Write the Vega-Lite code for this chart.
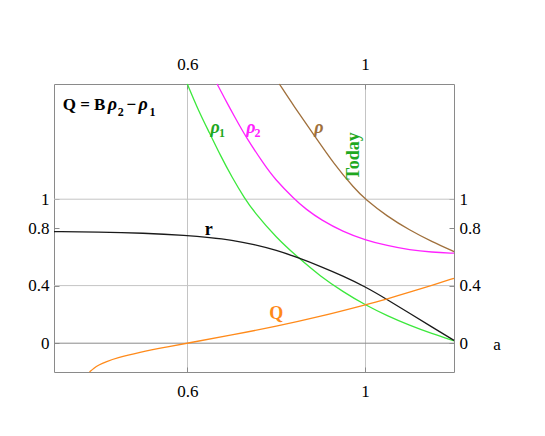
{
  "$schema": "https://vega.github.io/schema/vega-lite/v6.json",
  "width": 400,
  "height": 288,
  "autosize": {"type": "none"},
  "padding": {"left": 54, "top": 84, "right": 91, "bottom": 64},
  "background": "white",
  "config": {
    "view": {"stroke": null},
    "font": "Liberation Serif",
    "axis": {
      "labelFont": "Liberation Serif",
      "labelFontSize": 17,
      "labelColor": "#000000",
      "domainColor": "#8a8a8a",
      "tickColor": "#8a8a8a",
      "tickSize": -5,
      "title": null,
      "labelFlush": false,
      "labelOverlap": false,
      "format": "~g"
    }
  },
  "datasets": {
    "curves": [
      {"s": "rho1", "a": 0.6, "v": 1.8},
      {"s": "rho1", "a": 0.625, "v": 1.615},
      {"s": "rho1", "a": 0.65, "v": 1.46},
      {"s": "rho1", "a": 0.675, "v": 1.3},
      {"s": "rho1", "a": 0.7, "v": 1.155},
      {"s": "rho1", "a": 0.729, "v": 1.005},
      {"s": "rho1", "a": 0.75, "v": 0.913},
      {"s": "rho1", "a": 0.8, "v": 0.733},
      {"s": "rho1", "a": 0.85, "v": 0.593},
      {"s": "rho1", "a": 0.9, "v": 0.463},
      {"s": "rho1", "a": 0.95, "v": 0.358},
      {"s": "rho1", "a": 1.0, "v": 0.266},
      {"s": "rho1", "a": 1.05, "v": 0.19},
      {"s": "rho1", "a": 1.1, "v": 0.124},
      {"s": "rho1", "a": 1.15, "v": 0.067},
      {"s": "rho1", "a": 1.2, "v": 0.016},
      {"s": "rho2", "a": 0.667, "v": 1.8},
      {"s": "rho2", "a": 0.69, "v": 1.665},
      {"s": "rho2", "a": 0.706, "v": 1.575},
      {"s": "rho2", "a": 0.732, "v": 1.43},
      {"s": "rho2", "a": 0.773, "v": 1.24},
      {"s": "rho2", "a": 0.796, "v": 1.143},
      {"s": "rho2", "a": 0.841, "v": 1.0},
      {"s": "rho2", "a": 0.867, "v": 0.93},
      {"s": "rho2", "a": 0.901, "v": 0.856},
      {"s": "rho2", "a": 0.95, "v": 0.775},
      {"s": "rho2", "a": 1.0, "v": 0.717},
      {"s": "rho2", "a": 1.05, "v": 0.677},
      {"s": "rho2", "a": 1.1, "v": 0.647},
      {"s": "rho2", "a": 1.15, "v": 0.632},
      {"s": "rho2", "a": 1.2, "v": 0.625},
      {"s": "rho", "a": 0.807, "v": 1.8},
      {"s": "rho", "a": 0.84, "v": 1.645},
      {"s": "rho", "a": 0.882, "v": 1.46},
      {"s": "rho", "a": 0.931, "v": 1.24},
      {"s": "rho", "a": 0.976, "v": 1.075},
      {"s": "rho", "a": 1.0, "v": 1.0},
      {"s": "rho", "a": 1.05, "v": 0.88},
      {"s": "rho", "a": 1.1, "v": 0.785},
      {"s": "rho", "a": 1.15, "v": 0.705},
      {"s": "rho", "a": 1.2, "v": 0.636},
      {"s": "r", "a": 0.3, "v": 0.775},
      {"s": "r", "a": 0.4, "v": 0.773},
      {"s": "r", "a": 0.5, "v": 0.765},
      {"s": "r", "a": 0.6, "v": 0.748},
      {"s": "r", "a": 0.65, "v": 0.734},
      {"s": "r", "a": 0.7, "v": 0.716},
      {"s": "r", "a": 0.75, "v": 0.686},
      {"s": "r", "a": 0.8, "v": 0.646},
      {"s": "r", "a": 0.85, "v": 0.593},
      {"s": "r", "a": 0.9, "v": 0.533},
      {"s": "r", "a": 0.95, "v": 0.467},
      {"s": "r", "a": 1.0, "v": 0.393},
      {"s": "r", "a": 1.05, "v": 0.303},
      {"s": "r", "a": 1.1, "v": 0.208},
      {"s": "r", "a": 1.15, "v": 0.113},
      {"s": "r", "a": 1.2, "v": 0.02},
      {"s": "Q", "a": 0.38, "v": -0.2},
      {"s": "Q", "a": 0.39, "v": -0.172},
      {"s": "Q", "a": 0.4, "v": -0.152},
      {"s": "Q", "a": 0.418, "v": -0.128},
      {"s": "Q", "a": 0.44, "v": -0.103},
      {"s": "Q", "a": 0.493, "v": -0.063},
      {"s": "Q", "a": 0.55, "v": -0.028},
      {"s": "Q", "a": 0.6, "v": 0.0},
      {"s": "Q", "a": 0.7, "v": 0.057},
      {"s": "Q", "a": 0.8, "v": 0.117},
      {"s": "Q", "a": 0.9, "v": 0.186},
      {"s": "Q", "a": 1.0, "v": 0.266},
      {"s": "Q", "a": 1.05, "v": 0.308},
      {"s": "Q", "a": 1.1, "v": 0.354},
      {"s": "Q", "a": 1.15, "v": 0.402},
      {"s": "Q", "a": 1.2, "v": 0.451}
    ],
    "grid": [{"g": 0.4}, {"g": 1}],
    "centerLabels": [
      {"s": "rlab", "t": "r", "a": 0.648, "v": 0.752},
      {"s": "Qlab", "t": "Q", "a": 0.8, "v": 0.171}
    ],
    "formulaUpright": [
      {"s": "formula", "t": "Q = B", "a": 0.3196, "v": 1.62},
      {"s": "formula", "t": "−", "a": 0.4634, "v": 1.62}
    ],
    "italicLabels": [
      {"s": "rho1lab", "t": "ρ", "a": 0.6521, "v": 1.457},
      {"s": "rho2lab", "t": "ρ", "a": 0.7324, "v": 1.457},
      {"s": "rholab", "t": "ρ", "a": 0.8858, "v": 1.457},
      {"s": "formula", "t": "ρ", "a": 0.4209, "v": 1.62},
      {"s": "formula", "t": "ρ", "a": 0.4904, "v": 1.62}
    ],
    "subscripts": [
      {"s": "rho1lab", "t": "1", "a": 0.6712, "v": 1.429},
      {"s": "rho2lab", "t": "2", "a": 0.751, "v": 1.429},
      {"s": "formula", "t": "2", "a": 0.4432, "v": 1.578},
      {"s": "formula", "t": "1", "a": 0.5151, "v": 1.578}
    ],
    "today": [{"s": "todaylab", "t": "Today", "a": 0.976, "v": 1.3}],
    "axisName": [{"s": "alab", "t": "a", "a": 1.297, "v": -0.01}]
  },
  "resolve": {"axis": {"x": "independent", "y": "independent"}},
  "layer": [
    {
      "data": {"name": "grid"},
      "mark": {"type": "rule", "color": "#c4c4c4", "strokeWidth": 1},
      "encoding": {
        "y": {"field": "g", "type": "quantitative", "scale": {"domain": [-0.2, 1.8], "nice": false, "zero": false},
          "axis": {"orient": "right", "values": [0, 0.4, 0.8, 1], "grid": false, "labelPadding": 10}},
        "x": {"datum": 0.3, "type": "quantitative", "scale": {"domain": [0.3, 1.2], "nice": false, "zero": false},
          "axis": {"orient": "top", "values": [0.6, 1], "grid": false, "labelPadding": 16}},
        "x2": {"datum": 1.2}
      }
    },
    {
      "data": {"values": [{"z": 0}]},
      "mark": {"type": "rule", "color": "#8a8a8a", "strokeWidth": 1},
      "encoding": {
        "y": {"field": "z", "type": "quantitative", "axis": null},
        "x": {"datum": 0.3, "type": "quantitative", "axis": null},
        "x2": {"datum": 1.2}
      }
    },
    {
      "data": {"name": "curves"},
      "mark": {"type": "line", "strokeWidth": 1.3, "interpolate": "basis"},
      "encoding": {
        "x": {"field": "a", "type": "quantitative",
          "axis": {"orient": "bottom", "values": [0.6, 1], "grid": true, "gridColor": "#c4c4c4", "gridWidth": 1, "labelPadding": 16}},
        "y": {"field": "v", "type": "quantitative",
          "axis": {"orient": "left", "values": [0, 0.4, 0.8, 1], "grid": false, "labelPadding": 10}},
        "color": {"field": "s", "type": "nominal", "legend": null,
          "scale": {
            "domain": ["rho1", "rho2", "rho", "r", "Q", "rho1lab", "rho2lab", "rholab", "rlab", "Qlab", "todaylab", "formula", "alab"],
            "range": ["#3ce83c", "#ff22ff", "#a0703c", "#1a1a1a", "#ff8a1a", "#1fa81f", "#ff22ff", "#a0703c", "#000000", "#ff8a1a", "#1fa81f", "#000000", "#000000"]
          }},
        "detail": {"field": "s"}
      }
    },
    {
      "data": {"name": "centerLabels"},
      "mark": {"type": "text", "font": "Liberation Serif", "fontWeight": "bold", "fontSize": 18, "align": "center", "baseline": "alphabetic"},
      "encoding": {
        "x": {"field": "a", "type": "quantitative", "axis": null},
        "y": {"field": "v", "type": "quantitative", "axis": null},
        "text": {"field": "t"},
        "color": {"field": "s", "type": "nominal", "legend": null}
      }
    },
    {
      "data": {"name": "formulaUpright"},
      "mark": {"type": "text", "font": "Liberation Serif", "fontWeight": "bold", "fontSize": 17, "align": "left", "baseline": "alphabetic"},
      "encoding": {
        "x": {"field": "a", "type": "quantitative", "axis": null},
        "y": {"field": "v", "type": "quantitative", "axis": null},
        "text": {"field": "t"},
        "color": {"field": "s", "type": "nominal", "legend": null}
      }
    },
    {
      "data": {"name": "italicLabels"},
      "mark": {"type": "text", "font": "Liberation Serif", "fontWeight": "bold", "fontStyle": "italic", "fontSize": 18, "align": "left", "baseline": "alphabetic"},
      "encoding": {
        "x": {"field": "a", "type": "quantitative", "axis": null},
        "y": {"field": "v", "type": "quantitative", "axis": null},
        "text": {"field": "t"},
        "color": {"field": "s", "type": "nominal", "legend": null}
      }
    },
    {
      "data": {"name": "subscripts"},
      "mark": {"type": "text", "font": "Liberation Serif", "fontWeight": "bold", "fontSize": 12, "align": "left", "baseline": "alphabetic"},
      "encoding": {
        "x": {"field": "a", "type": "quantitative", "axis": null},
        "y": {"field": "v", "type": "quantitative", "axis": null},
        "text": {"field": "t"},
        "color": {"field": "s", "type": "nominal", "legend": null}
      }
    },
    {
      "data": {"name": "today"},
      "mark": {"type": "text", "font": "Liberation Serif", "fontWeight": "bold", "fontSize": 18, "align": "center", "baseline": "middle", "angle": 270},
      "encoding": {
        "x": {"field": "a", "type": "quantitative", "axis": null},
        "y": {"field": "v", "type": "quantitative", "axis": null},
        "text": {"field": "t"},
        "color": {"field": "s", "type": "nominal", "legend": null}
      }
    },
    {
      "data": {"name": "axisName"},
      "mark": {"type": "text", "font": "Liberation Serif", "fontSize": 17, "align": "center", "baseline": "middle"},
      "encoding": {
        "x": {"field": "a", "type": "quantitative", "axis": null},
        "y": {"field": "v", "type": "quantitative", "axis": null},
        "text": {"field": "t"},
        "color": {"field": "s", "type": "nominal", "legend": null}
      }
    }
  ]
}
